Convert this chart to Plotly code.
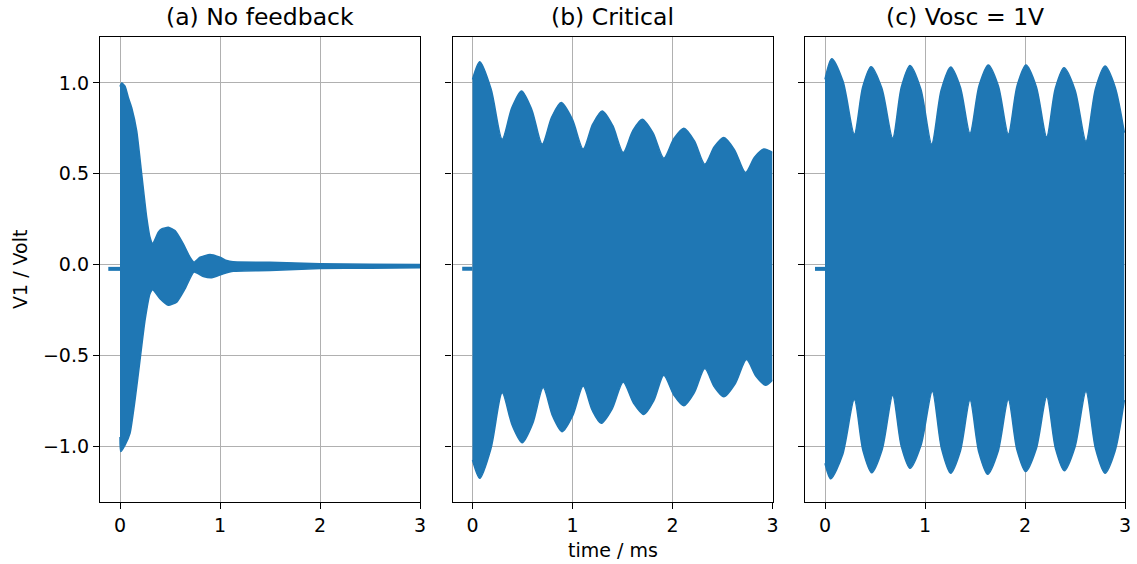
import plotly.graph_objects as go

# ---------------- data ----------------
TITLES = ["(a) No feedback", "(b) Critical", "(c) Vosc = 1V"]
X_TICKS = [0, 1, 2, 3]
Y_TICKS = [-1.0, -0.5, 0.0, 0.5, 1.0]
Y_TICK_LABELS = ["\u22121.0", "\u22120.5", "0.0", "0.5", "1.0"]

# pre-trigger baseline segments (time in ms, V)
PRE_T_A = [-0.117, 0.0]
PRE_T_B = [-0.103, 0.0]
PRE_T_C = [-0.10, 0.0]
PRE_V = [-0.024, -0.024]

# (a) No feedback: upper / lower envelope of the oscillation
A_UP_T = [0.0, 0.017, 0.05, 0.083, 0.117, 0.167, 0.217, 0.267, 0.3, 0.327, 0.383, 0.417,
          0.483, 0.55, 0.633, 0.7, 0.74, 0.8, 0.9, 1.0, 1.067, 1.13, 1.5, 2.0, 2.5, 3.0]
A_UP_V = [0.98, 1.0, 0.983, 0.92, 0.864, 0.736, 0.498, 0.26, 0.15, 0.114, 0.178, 0.196,
          0.205, 0.187, 0.114, 0.04, 0.013, 0.04, 0.055, 0.04, 0.022, 0.015, 0.012, 0.004, 0.001, 0.0]
A_LO_T = [0.0, 0.007, 0.05, 0.1, 0.15, 0.2, 0.25, 0.3, 0.327, 0.4, 0.483, 0.567, 0.65,
          0.74, 0.833, 0.917, 1.033, 1.133, 1.5, 2.0, 2.5, 3.0]
A_LO_V = [-0.95, -1.031, -0.995, -0.93, -0.747, -0.527, -0.308, -0.161, -0.139, -0.189, -0.225,
          -0.207, -0.134, -0.042, -0.066, -0.073, -0.051, -0.037, -0.033, -0.022, -0.02, -0.018]

# (b) Critical
B_UP_T = [0.0, 0.073, 0.185, 0.297, 0.393, 0.49, 0.593, 0.697, 0.792, 0.887, 0.997, 1.107,
          1.202, 1.297, 1.402, 1.507, 1.602, 1.697, 1.805, 1.913, 2.013, 2.113, 2.218, 2.323,
          2.418, 2.513, 2.62, 2.73, 2.82, 2.913, 3.0]
B_UP_V = [1.02, 1.117, 0.968, 0.69, 0.863, 0.956, 0.853, 0.663, 0.812, 0.892, 0.802, 0.636,
          0.773, 0.846, 0.766, 0.617, 0.736, 0.80, 0.725, 0.586, 0.693, 0.751, 0.682, 0.553,
          0.649, 0.70, 0.632, 0.507, 0.591, 0.636, 0.617]
B_LO_T = [0.0, 0.073, 0.185, 0.297, 0.397, 0.497, 0.602, 0.707, 0.802, 0.897, 1.002, 1.107,
          1.197, 1.287, 1.397, 1.507, 1.61, 1.713, 1.813, 1.913, 2.013, 2.113, 2.218, 2.323,
          2.418, 2.513, 2.627, 2.74, 2.835, 2.93, 3.0]
B_LO_V = [-1.077, -1.178, -1.013, -0.707, -0.886, -0.982, -0.876, -0.678, -0.836, -0.921, -0.833, -0.670,
          -0.803, -0.875, -0.795, -0.647, -0.763, -0.826, -0.750, -0.61, -0.719, -0.778, -0.706, -0.573,
          -0.674, -0.729, -0.657, -0.524, -0.616, -0.665, -0.637]

# (c) Vosc = 1V
C_UP_T = [0.0, 0.067, 0.18, 0.293, 0.377, 0.46, 0.568, 0.677, 0.763, 0.85, 0.958, 1.067,
          1.162, 1.257, 1.353, 1.45, 1.541, 1.633, 1.733, 1.833, 1.921, 2.01, 2.113, 2.217,
          2.303, 2.39, 2.5, 2.61, 2.705, 2.8, 2.9, 2.993]
C_UP_V = [1.02, 1.134, 1.009, 0.718, 0.978, 1.09, 0.972, 0.696, 0.977, 1.097, 0.967, 0.663,
          0.961, 1.088, 0.978, 0.722, 0.986, 1.099, 0.985, 0.718, 0.985, 1.099, 0.980, 0.703,
          0.970, 1.084, 0.962, 0.678, 0.969, 1.093, 0.98, 0.727]
C_LO_T = [0.0, 0.057, 0.175, 0.293, 0.38, 0.467, 0.572, 0.677, 0.763, 0.85, 0.96, 1.073,
          1.165, 1.257, 1.353, 1.45, 1.538, 1.627, 1.73, 1.833, 1.92, 2.007, 2.112, 2.217,
          2.305, 2.393, 2.5, 2.61, 2.705, 2.8, 2.9, 2.993]
C_LO_V = [-1.095, -1.181, -1.05, -0.744, -1.026, -1.147, -1.019, -0.72, -1.002, -1.123, -0.996, -0.698,
          -1.014, -1.15, -1.029, -0.747, -1.033, -1.156, -1.032, -0.744, -1.022, -1.141, -1.017, -0.729,
          -1.014, -1.136, -1.005, -0.698, -1.014, -1.15, -1.029, -0.747]

# ---------------- figure ----------------
BLUE = "#1f77b4"
FONT = "DejaVu Sans"
W, H = 1137, 564

panels = [
    (PRE_T_A, A_UP_T, A_UP_V, A_LO_T, A_LO_V, 0.5),
    (PRE_T_B, B_UP_T, B_UP_V, B_LO_T, B_LO_V, 0.8),
    (PRE_T_C, C_UP_T, C_UP_V, C_LO_T, C_LO_V, 0.8),
]
x_px = [(100, 420), (452.5, 772.5), (805, 1125)]
y_dom = [1 - 502 / H, 1 - 37 / H]

fig = go.Figure()
layout = dict(
    width=W, height=H,
    margin=dict(l=0, r=0, t=0, b=0, pad=0),
    paper_bgcolor="white", plot_bgcolor="white",
    showlegend=False,
    font=dict(family=FONT, size=19, color="black"),
)

annotations = []
for i, (pre_t, ut, uv, lt, lv, sm) in enumerate(panels):
    n = "" if i == 0 else str(i + 1)
    xa, ya = "x" + n, "y" + n
    fig.add_trace(go.Scatter(x=ut, y=uv, mode="lines", xaxis=xa, yaxis=ya,
                             line=dict(color=BLUE, width=1.5, shape="spline", smoothing=sm),
                             hoverinfo="skip"))
    fig.add_trace(go.Scatter(x=lt, y=lv, mode="lines", xaxis=xa, yaxis=ya,
                             fill="tonexty", fillcolor=BLUE,
                             line=dict(color=BLUE, width=1.5, shape="spline", smoothing=sm),
                             hoverinfo="skip"))
    fig.add_trace(go.Scatter(x=pre_t, y=PRE_V, mode="lines", xaxis=xa, yaxis=ya,
                             line=dict(color=BLUE, width=4), hoverinfo="skip"))

    axis_common = dict(
        showline=True, linecolor="black", linewidth=1.3, mirror=True,
        ticks="outside", ticklen=6, tickwidth=1.3, tickcolor="black",
        showgrid=True, gridcolor="#b0b0b0", gridwidth=1.2,
        zeroline=False, automargin=False,
        tickfont=dict(family=FONT, size=19, color="black"),
    )
    xd = [x_px[i][0] / W, x_px[i][1] / W]
    layout["xaxis" + n] = dict(axis_common, domain=xd, range=[-0.2, 3.0],
                               tickvals=X_TICKS, ticktext=[str(v) for v in X_TICKS],
                               anchor=ya)
    layout["yaxis" + n] = dict(axis_common, domain=y_dom, range=[-1.3085, 1.2534],
                               tickvals=Y_TICKS, ticktext=Y_TICK_LABELS,
                               showticklabels=(i == 0), anchor=xa)
    annotations.append(dict(text=TITLES[i], x=(xd[0] + xd[1]) / 2, y=1 - 17 / H,
                            xref="paper", yref="paper", showarrow=False,
                            xanchor="center", yanchor="middle",
                            font=dict(family=FONT, size=23.5, color="black")))

annotations.append(dict(text="time / ms", x=612.5 / W, y=1 - 550 / H, xref="paper", yref="paper",
                        showarrow=False, xanchor="center", yanchor="middle",
                        font=dict(family=FONT, size=19, color="black")))
annotations.append(dict(text="V1 / Volt", x=20 / W, y=1 - 270 / H, xref="paper", yref="paper",
                        showarrow=False, xanchor="center", yanchor="middle", textangle=-90,
                        font=dict(family=FONT, size=19, color="black")))
layout["annotations"] = annotations

fig.update_layout(**layout)
fig.write_html("out.html")
